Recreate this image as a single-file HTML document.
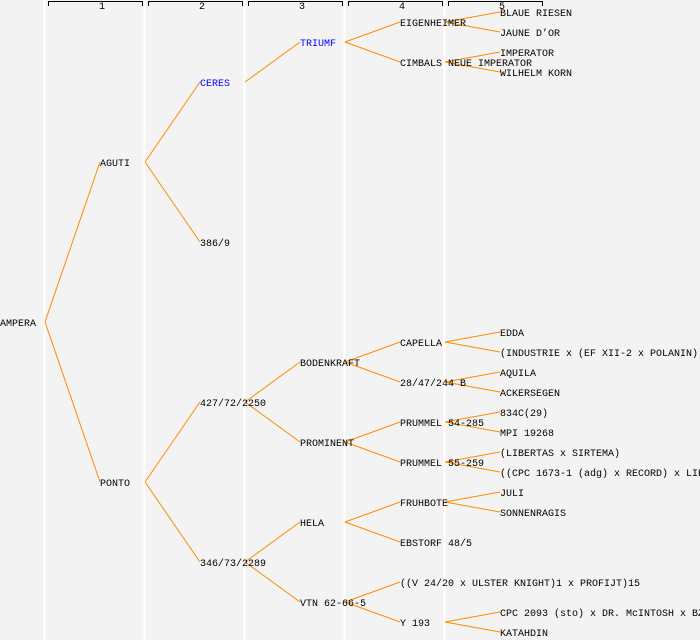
<!DOCTYPE html>
<html><head><meta charset="utf-8"><style>
html,body{margin:0;padding:0;background:#f3f3f3;}
svg{display:block;}
text{font-family:"Liberation Mono","DejaVu Sans Mono",monospace;font-size:10px;fill:#000;}
</style></head><body>
<svg width="700" height="640" viewBox="0 0 700 640">
<rect width="700" height="640" fill="#f3f3f3"/>
<g stroke="#fff" stroke-width="2">
<line x1="44.5" y1="0" x2="44.5" y2="640"/><line x1="144.5" y1="0" x2="144.5" y2="640"/>
<line x1="244.5" y1="0" x2="244.5" y2="640"/><line x1="344.5" y1="0" x2="344.5" y2="640"/>
<line x1="444.5" y1="0" x2="444.5" y2="640"/>
</g>
<g stroke="#000" stroke-width="1" fill="none">
<path d="M48.5 6V1.5H142.5V6"/><path d="M148.5 6V1.5H242.5V6"/><path d="M248.5 6V1.5H342.5V6"/>
<path d="M348.5 6V1.5H442.5V6"/><path d="M448.5 6V1.5H542.5V6"/>
</g>
<g style="font-size:8px" text-anchor="middle">
<text x="102" y="9">1</text><text x="202" y="9">2</text><text x="302" y="9">3</text><text x="402" y="9">4</text><text x="502" y="9">5</text>
</g>
<g stroke="#ff8c00" stroke-width="1" fill="none">
<path d="M45 322L100 162M45 322L100 482"/>
<path d="M145 162L200 82M145 162L200 242M145 482L200 402M145 482L200 562"/>
<path d="M245 82L300 42M245 402L300 362M245 402L300 442M245 562L300 522M245 562L300 602"/>
<path d="M345 42L400 22M345 42L400 62M345 362L400 342M345 362L400 382M345 442L400 422M345 442L400 462M345 522L400 502M345 522L400 542M345 602L400 582M345 602L400 622"/>
<path d="M445 22L500 12M445 22L500 32M445 62L500 52M445 62L500 72M445 342L500 332M445 342L500 352M445 382L500 372M445 382L500 392M445 422L500 412M445 422L500 432M445 462L500 452M445 462L500 472M445 502L500 492M445 502L500 512M445 622L500 612M445 622L500 632"/>
</g>
<g>
<text x="0" y="326">AMPERA</text>
<text x="100" y="166">AGUTI</text><text x="100" y="486">PONTO</text>
<text x="200" y="86" style="fill:#0000ff">CERES</text><text x="200" y="246">386/9</text>
<text x="200" y="406">427/72/2250</text><text x="200" y="566">346/73/2289</text>
<text x="300" y="46" style="fill:#0000ff">TRIUMF</text><text x="300" y="366">BODENKRAFT</text>
<text x="300" y="446">PROMINENT</text><text x="300" y="526">HELA</text><text x="300" y="606">VTN 62-66-5</text>
<text x="400" y="26">EIGENHEIMER</text><text x="400" y="66">CIMBALS NEUE IMPERATOR</text>
<text x="400" y="346">CAPELLA</text><text x="400" y="386">28/47/244 B</text>
<text x="400" y="426">PRUMMEL 54-285</text><text x="400" y="466">PRUMMEL 55-259</text>
<text x="400" y="506">FRUHBOTE</text><text x="400" y="546">EBSTORF 48/5</text>
<text x="400" y="586">((V 24/20 x ULSTER KNIGHT)1 x PROFIJT)15</text><text x="400" y="626">Y 193</text>
<text x="500" y="16">BLAUE RIESEN</text><text x="500" y="36">JAUNE D’OR</text>
<text x="500" y="56">IMPERATOR</text><text x="500" y="76">WILHELM KORN</text>
<text x="500" y="336">EDDA</text><text x="500" y="356">(INDUSTRIE x (EF XII-2 x POLANIN))</text>
<text x="500" y="376">AQUILA</text><text x="500" y="396">ACKERSEGEN</text>
<text x="500" y="416">834C(29)</text><text x="500" y="436">MPI 19268</text>
<text x="500" y="456">(LIBERTAS x SIRTEMA)</text><text x="500" y="476">((CPC 1673-1 (adg) x RECORD) x LIBERTAS)</text>
<text x="500" y="496">JULI</text><text x="500" y="516">SONNENRAGIS</text>
<text x="500" y="616">CPC 2093 (sto) x DR. McINTOSH x BZ</text><text x="500" y="636">KATAHDIN</text>
</g>
</svg>
</body></html>
